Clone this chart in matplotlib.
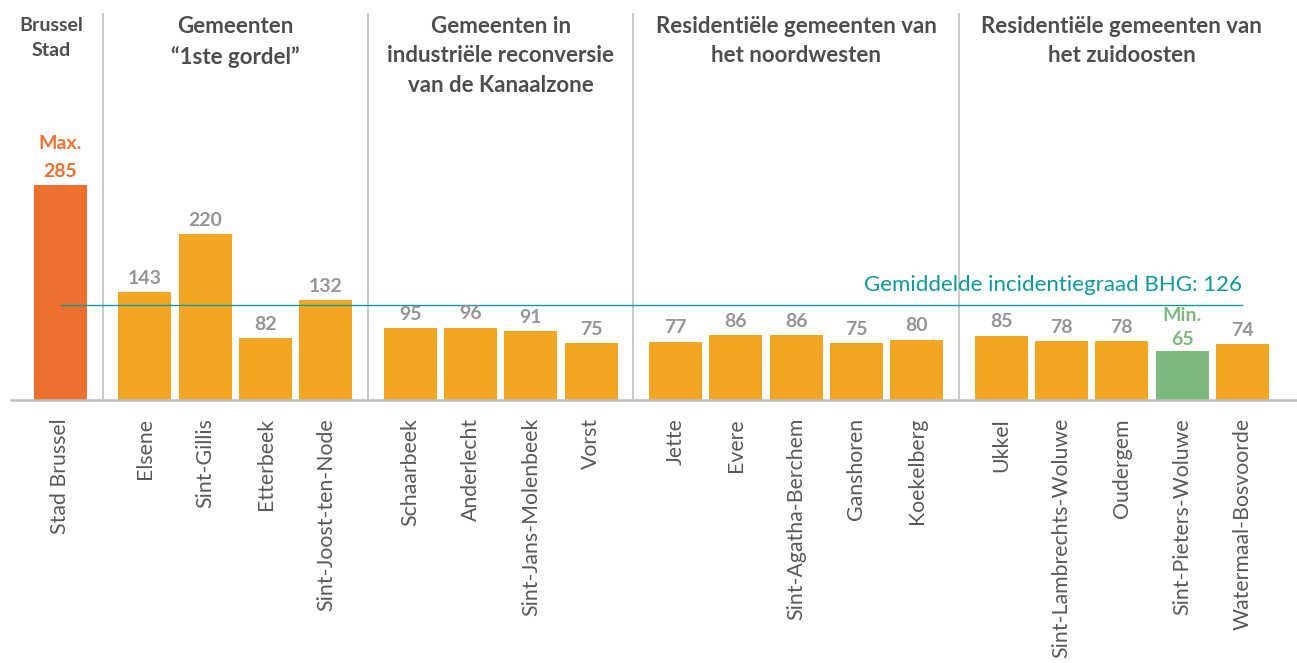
#!/usr/bin/env python3
"""Incidentiegraad per gemeente (BHG), gegroepeerd per type gemeente."""
import matplotlib
matplotlib.use("Agg")
import matplotlib.pyplot as plt

# Data
GROUPS = [
    "Brussel\nStad",
    "Gemeenten\n\u201c1ste gordel\u201d",
    "Gemeenten in\nindustriële reconversie\nvan de Kanaalzone",
    "Residentiële gemeenten van\nhet noordwesten",
    "Residentiële gemeenten van\nhet zuidoosten",
]
MUNICIPALITIES = [
    ["Stad Brussel"],
    ["Elsene", "Sint-Gillis", "Etterbeek", "Sint-Joost-ten-Node"],
    ["Schaarbeek", "Anderlecht", "Sint-Jans-Molenbeek", "Vorst"],
    ["Jette", "Evere", "Sint-Agatha-Berchem", "Ganshoren", "Koekelberg"],
    ["Ukkel", "Sint-Lambrechts-Woluwe", "Oudergem", "Sint-Pieters-Woluwe", "Watermaal-Bosvoorde"],
]
VALUES = [
    [285],
    [143, 220, 82, 132],
    [95, 96, 91, 75],
    [77, 86, 86, 75, 80],
    [85, 78, 78, 65, 74],
]
MEAN_BHG = 126
MEAN_LABEL = "Gemiddelde incidentiegraad BHG: 126"

# Styling
FONT = "Lato"
C_BAR = "#F2A623"
C_MAX = "#ED7030"
C_MIN = "#7DB87D"
C_MEAN = "#0E9A9A"
C_LABEL = "#959595"
C_HEAD = "#4D4D4D"
C_TICK = "#595959"
C_GRID = "#BFBFBF"
GROUP_GAP = 0.4
BAR_W = 0.88

# positions: step 1 inside a group, extra gap between groups
xs, names, vals, group_x, sep_x = [], [], [], [], []
pos = 0.0
for gi, (munis, gvals) in enumerate(zip(MUNICIPALITIES, VALUES)):
    if gi > 0:
        sep_x.append(pos - 0.5 + GROUP_GAP / 2)
        pos += GROUP_GAP
    start = pos
    for m, v in zip(munis, gvals):
        xs.append(pos)
        names.append(m)
        vals.append(v)
        pos += 1
    group_x.append((start + pos - 1) / 2)

vmax, vmin = max(vals), min(vals)
colors = [C_MAX if v == vmax else C_MIN if v == vmin else C_BAR for v in vals]

fig = plt.figure(figsize=(12.97, 6.63), dpi=100)
ax = fig.add_axes([0, 1 - 400 / 663, 1, 400 / 663])
ax.set_xlim(-60.5 / 60.3, (1297 - 60.5) / 60.3)
ax.set_ylim(0, 400 / 0.754)

ax.bar(xs, vals, width=BAR_W, color=colors, zorder=2)

# value labels
for x, v, c in zip(xs, vals, colors):
    off, ls = 4, 1.2
    if v == vmax:
        txt, col, ls = f"Max.\n{v}", C_MAX, 1.75
    elif v == vmin:
        txt, col, ls, off = f"Min.\n{v}", C_MIN, 1.5, 2
    else:
        txt, col = str(v), C_LABEL
    ax.annotate(txt, (x, v), xytext=(0, off), textcoords="offset points",
                ha="center", va="bottom", fontsize=14, fontweight="bold",
                color=col, family=FONT, linespacing=ls, zorder=4)

# mean line
ax.plot([xs[0], xs[-1]], [MEAN_BHG, MEAN_BHG], color=C_MEAN, lw=1.0, zorder=3)
ax.annotate(MEAN_LABEL, (xs[-1], MEAN_BHG), xytext=(0, 7.5), textcoords="offset points",
            ha="right", va="bottom", fontsize=16, color=C_MEAN, family=FONT)

# group separators and baseline
ax.vlines(sep_x, 0, 387 / 0.754, color=C_GRID, lw=1.2, zorder=1)
ax.plot([-0.84, ax.get_xlim()[1]], [0, 0], color=C_GRID, lw=1.8, zorder=3,
        clip_on=False, solid_capstyle="butt")

for s in ax.spines.values():
    s.set_visible(False)
ax.set_yticks([])
ax.set_xticks(xs)
ax.set_xticklabels(names, rotation=90, fontsize=15.3, color=C_TICK, family=FONT)
ax.tick_params(axis="x", length=0, pad=13)

# group headers
for gi, (gx, g) in enumerate(zip(group_x, GROUPS)):
    xf = ax.transData.transform((gx, 0))[0] / fig.bbox.width
    top = 16
    if gi == 0:
        xf -= 9 / 1297
        top = 17
    fig.text(xf, 1 - top / 663, g, ha="center", va="top",
             fontsize=14 if gi == 0 else 16, fontweight="bold", color=C_HEAD,
             family=FONT, linespacing=1.55 if gi == 0 else 1.5)

fig.savefig("out.png", dpi=100)
